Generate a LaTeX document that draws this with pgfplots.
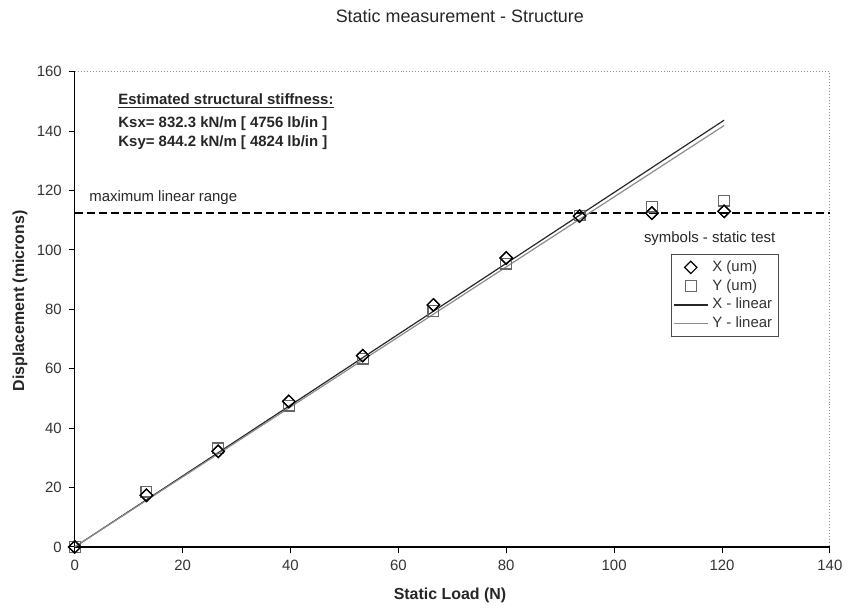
\documentclass[border=0pt]{standalone}
\usepackage{fontspec}
\setmainfont{Liberation Sans}
\usepackage{pgfplots}
\pgfplotsset{compat=1.18}

% Static load test: measured displacement and linear fits
\pgfplotstableread{
load  dx
0     0
13.3  17.4
26.6  32.2
39.7  49.0
53.4  64.4
66.5  81.5
80.0  97.3
93.6  111.4
107.0 112.4
120.4 113.0
}\xdata
\pgfplotstableread{
load  dy
0     0
13.3  18.6
26.6  33.2
39.7  47.6
53.4  63.4
66.5  79.4
80.0  95.4
93.6  111.6
107.0 114.6
120.4 116.6
}\ydata

\begin{document}
\begin{tikzpicture}
\begin{axis}[
  at={(0,0)}, anchor=origin,
  scale only axis,
  width=379pt, height=238.5pt,
  xmin=0, xmax=140, ymin=0, ymax=160,
  xtick={0,20,...,140}, ytick={0,20,...,160},
  axis x line*=bottom, axis y line*=left,
  axis line style={black, line width=0.7pt, -},
  tick align=outside, major tick length=3pt,
  tick style={black, line width=0.5pt},
  /pgf/number format/assume math mode=true,
  tick label style={font=\fontsize{7.5}{8}\selectfont, text=black!80},
  xlabel={\textbf{Static Load (N)}},
  ylabel={\textbf{Displacement (microns)}},
  label style={font=\fontsize{8}{9}\selectfont, text=black!85},
  xlabel style={at={(axis description cs:0.497,0)}, anchor=center, yshift=-24.5pt},
  ylabel style={at={(axis description cs:0,0.518)}, anchor=center, yshift=27.5pt},
  legend style={at={(axis cs:110.5,98.6)}, anchor=north west,
    draw=black!70, line width=0.4pt, font=\fontsize{7.5}{8.5}\selectfont,
    inner sep=1pt, row sep=-1.5pt, text=black!80},
  legend cell align=left,
  clip=false,
]
% plot area border (top and right)
\draw[black!45, densely dotted, line width=0.5pt]
  (rel axis cs:0,1) -- (rel axis cs:1,1) -- (rel axis cs:1,0);

% maximum linear range
\draw[black, dash pattern=on 4pt off 2pt, line width=0.9pt]
  (axis cs:0,112.4) -- (axis cs:140,112.4);

\addplot[only marks, mark=square, mark size=2.2pt, black, mark options={line width=0.6pt, rotate=45}]
  table[x=load, y=dx] {\xdata};
\addlegendentry{X (um)}
\addplot[only marks, mark=square, mark size=2.7pt, black!60, mark options={line width=0.6pt}]
  table[x=load, y=dy] {\ydata};
\addlegendentry{Y (um)}
\addplot[black!85, line width=0.6pt] coordinates {(0,0) (120.4,143.7)};
\addlegendentry{X - linear}
\addplot[black!45, line width=0.6pt] coordinates {(0,0) (120.4,141.9)};
\addlegendentry{Y - linear}

% diamonds again, on top of the fit lines
\addplot[only marks, mark=square, mark size=2.2pt, black, mark options={line width=0.6pt, rotate=45}, forget plot]
  table[x=load, y=dx] {\xdata};

\node[anchor=center, font=\fontsize{9}{10}\selectfont, text=black!85]
  at (rel axis cs:0.51,1) [yshift=28pt] {Static measurement - Structure};

\node[anchor=west, font=\bfseries\fontsize{7.5}{8.5}\selectfont, text=black!85]
  at (axis cs:6.8,150) {\underline{Estimated structural stiffness:}};
\node[anchor=west, font=\bfseries\fontsize{7.5}{8.5}\selectfont, text=black!85]
  at (axis cs:6.8,142.6) {Ksx= 832.3 kN/m [ 4756 lb/in ]};
\node[anchor=west, font=\bfseries\fontsize{7.5}{8.5}\selectfont, text=black!85]
  at (axis cs:6.8,136.2) {Ksy= 844.2 kN/m [ 4824 lb/in ]};

\node[anchor=west, font=\fontsize{7.5}{8.5}\selectfont, text=black!85]
  at (axis cs:1.4,117.7) {maximum linear range};
\node[anchor=center, font=\fontsize{7.5}{8.5}\selectfont, text=black!85]
  at (axis cs:117.7,103.7) {symbols - static test};
\end{axis}
\path[use as bounding box] (-37.5pt,-34.5pt) rectangle (387pt,274.5pt);
\end{tikzpicture}
\end{document}
